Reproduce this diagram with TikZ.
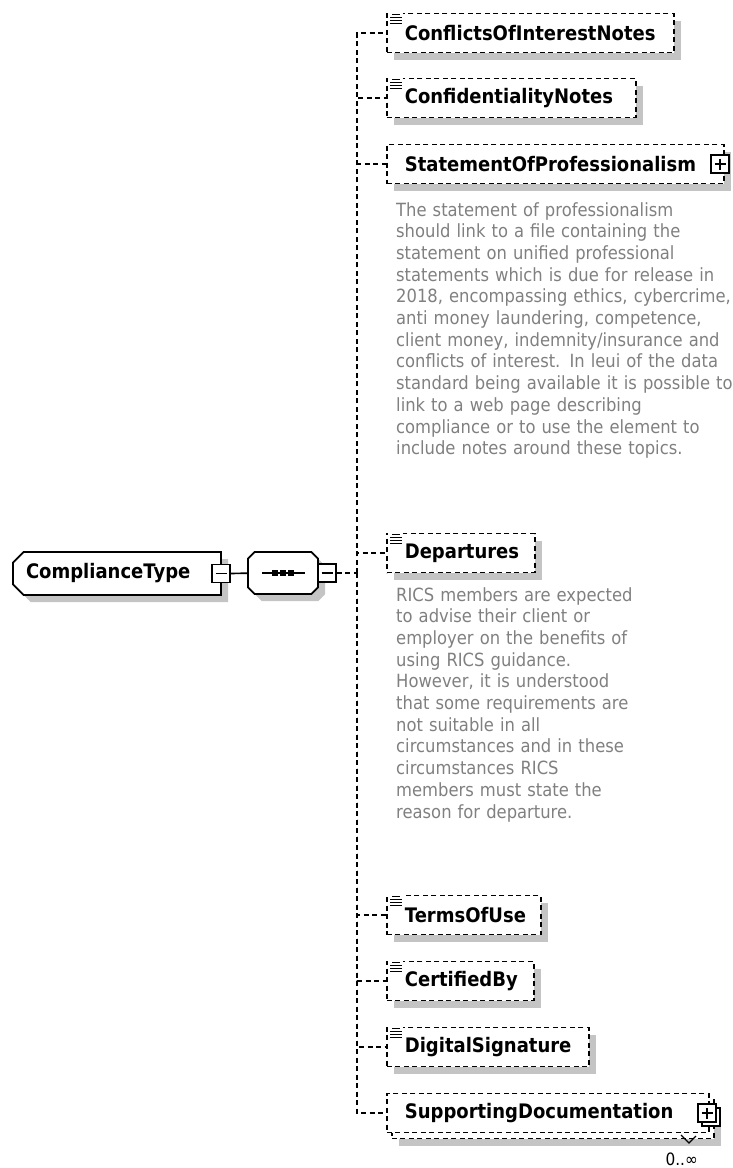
\documentclass[tikz,border=0pt]{standalone}
\usepackage{fontspec}
\setmainfont{DejaVu Sans}[FakeStretch=0.9]
\usetikzlibrary{shapes.misc,shadows}
\definecolor{shad}{RGB}{196,196,196}
\definecolor{notegray}{RGB}{128,128,128}
\tikzset{
  shd/.style={drop shadow={shadow xshift=7pt,shadow yshift=-7pt,fill=shad,opacity=1}},
  conn/.style={line width=1.8pt,dash pattern=on 5pt off 3.5pt},
  elbox/.style={draw,conn,line width=1.7pt,fill=white,anchor=west,minimum height=39pt,
    inner xsep=18pt,inner ysep=0pt,text width=#1,align=left,
    font=\bfseries\fontsize{20}{24}\selectfont},
  elem/.style={elbox=#1,shd},
  tog/.style={draw,fill=white,line width=1.8pt,minimum size=18pt,inner sep=0pt},
  togm/.style={tog,path picture={\draw[line width=1.6pt]
    ([xshift=3.5pt]path picture bounding box.west) -- ([xshift=-3.5pt]path picture bounding box.east);}},
  togp/.style={tog,path picture={\draw[line width=1.6pt]
    ([xshift=3.5pt]path picture bounding box.west) -- ([xshift=-3.5pt]path picture bounding box.east)
    ([yshift=-3.5pt]path picture bounding box.north) -- ([yshift=3.5pt]path picture bounding box.south);}},
  note/.style={anchor=base west,inner sep=0pt,text width=345pt,align=left,text=notegray,
    font=\fontsize{18.2}{21.7}\selectfont}
}
\begin{document}
\begin{tikzpicture}[x=1pt,y=-1pt]
\useasboundingbox (0,0) rectangle (732,1168);
\node[draw,fill=white,line width=1.7pt,shd,chamfered rectangle,chamfered rectangle corners={north west,south west},
  chamfered rectangle xsep=7pt,minimum height=43pt,inner xsep=6pt,text width=182pt,align=left,
  font=\bfseries\fontsize{20}{24}\selectfont] (ctype) at (117,573.5) {ComplianceType};
\node[togm] (ctypem) at (221,573.5) {};
\node[draw,fill=white,line width=1.7pt,shd,chamfered rectangle,chamfered rectangle xsep=10pt,
  minimum width=70pt,minimum height=42pt] (seq) at (283,573) {};
\draw[line width=1.7pt] ([xshift=-21pt]seq.center) -- ([xshift=22pt]seq.center);
\foreach \dx in {-8,0,8}
  \fill ([xshift=\dx pt]seq.center) +(-3,-3) rectangle +(3,3);
\node[togm] (seqm) at (327,573) {};
\draw[line width=1.7pt] (ctypem) -- (seq);
\coordinate (spine) at (357,573);
\draw[conn] (seqm) -- (spine);

\node[elem=251pt] (coin) at (386,33) {ConflictsOfInterestNotes};
\node[elem=213pt] (conf) at (386,98) {ConfidentialityNotes};
\node[elem=301pt] (stmt) at (386,164) {StatementOfProfessionalism};
\node[togp] (stmtp) at (720,164) {};
\node[note] (stmtnote) at (396,216) {The statement of professionalism\\
should link to a file containing the\\
statement on unified professional\\
statements which is due for release in\\
2018, encompassing ethics, cybercrime,\\
anti money laundering, competence,\\
client money, indemnity/insurance and\\
conflicts of interest. In leui of the data\\
standard being available it is possible to\\
link to a web page describing\\
compliance or to use the element to\\
include notes around these topics.};
\node[elem=112pt] (dep) at (386,553) {Departures};
\node[note] (depnote) at (396,601) {RICS members are expected\\
to advise their client or\\
employer on the benefits of\\
using RICS guidance.\\
However, it is understood\\
that some requirements are\\
not suitable in all\\
circumstances and in these\\
circumstances RICS\\
members must state the\\
reason for departure.};
\node[elem=118pt] (tou) at (386,915) {TermsOfUse};
\node[elem=111pt] (cert) at (386,981) {CertifiedBy};
\node[elem=166pt] (dsig) at (386,1047) {DigitalSignature};
\node[elem=286pt] (suppb) at (391,1119) {};
\node[elbox=286pt] (supp) at (386,1113) {SupportingDocumentation};
\node[togp] (suppq) at (711,1117) {};
\node[togp] (suppp) at (707,1113) {};
\draw[line width=1.3pt] (681,1135) -- (689,1143) -- (696,1136);
\node[anchor=east,inner sep=0pt,font=\fontsize{17}{20}\selectfont] (mult) at (698,1159) {0..∞};

\foreach \n in {coin,conf,stmt,dep,tou,cert,dsig,supp}
  \draw[conn] (spine) |- (\n.west);
\foreach \n in {coin,conf,dep,tou,cert,dsig}{
  \fill[white] ([shift={(2pt,1pt)}]\n.north west) rectangle ([shift={(17pt,-12pt)}]\n.north west);
  \draw[line width=1.3pt] ([shift={(6pt,-1.5pt)}]\n.north west) -- ++(8pt,0pt);
  \foreach \dy in {-4.5,-7.5,-10.5}
    \draw[line width=1.3pt] ([shift={(4pt,\dy pt)}]\n.north west) -- ++(12pt,0pt);
}
\end{tikzpicture}
\end{document}
